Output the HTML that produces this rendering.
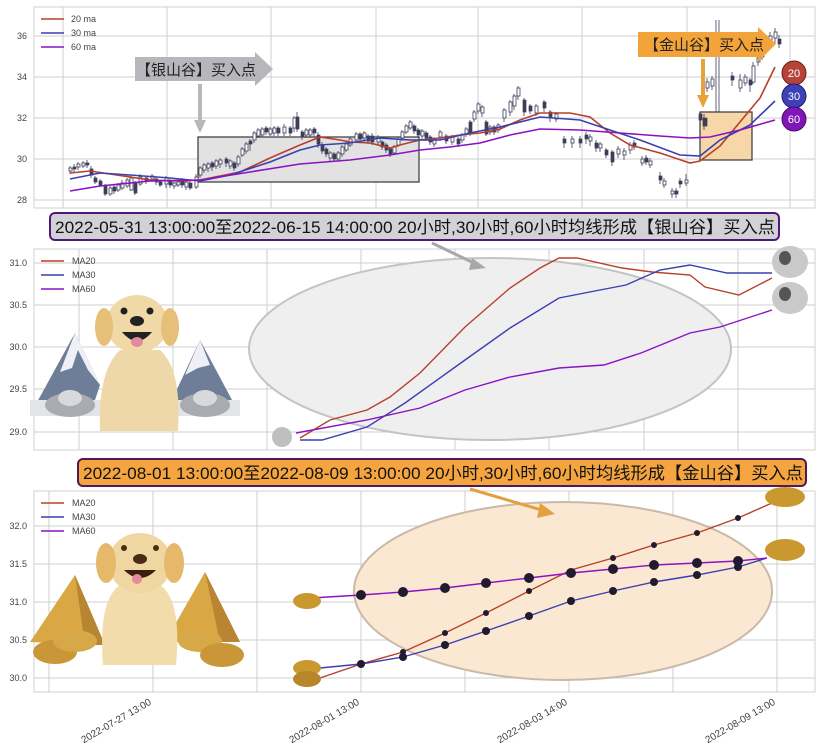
<!DOCTYPE html>
<html><head><meta charset="utf-8"><style>
html,body{margin:0;padding:0;background:#fff;}
svg{display:block;font-family:"Liberation Sans","Noto Sans CJK SC",sans-serif;}
.g{stroke:#cfcfcf;stroke-width:1;}
.t{font-size:9px;fill:#444;}
.f{fill:#3c3e58;stroke:#3c3e58;stroke-width:0.7;}
.h{fill:#fff;stroke:#3c3e58;stroke-width:0.8;}
.w{stroke:#3c3e58;stroke-width:0.8;}
</style></head><body>
<svg width="822" height="754" viewBox="0 0 822 754" xmlns="http://www.w3.org/2000/svg">
<rect width="822" height="754" fill="#fff"/>
<rect x="34" y="7" width="781" height="201" fill="#fff" stroke="#d0d0d0"/>
<g class="g">
<line x1="34" y1="36" x2="815" y2="36"/><line x1="34" y1="77" x2="815" y2="77"/><line x1="34" y1="118" x2="815" y2="118"/><line x1="34" y1="159" x2="815" y2="159"/><line x1="34" y1="200" x2="815" y2="200"/>
<line x1="63" y1="7" x2="63" y2="208"/><line x1="167" y1="7" x2="167" y2="208"/><line x1="271" y1="7" x2="271" y2="208"/><line x1="376" y1="7" x2="376" y2="208"/><line x1="478" y1="7" x2="478" y2="208"/><line x1="582" y1="7" x2="582" y2="208"/><line x1="687" y1="7" x2="687" y2="208"/><line x1="790" y1="7" x2="790" y2="208"/>
</g>
<g class="t" text-anchor="end"><text x="27" y="39">36</text><text x="27" y="80">34</text><text x="27" y="121">32</text><text x="27" y="162">30</text><text x="27" y="203">28</text></g>
<rect x="198" y="137" width="221" height="45" fill="#e2e2e2" stroke="#444" stroke-width="1.3"/>
<rect x="700" y="112" width="52" height="48" fill="#f7d7a8" stroke="#444" stroke-width="1.3"/>
<path class="w" d="M70 166V174M74 164V172M78 162V170M83 161V168M87 160V168M91 166V178M95 176V184M100 179V187M105 184V196M110 186V196M114 185V194M118 183V192M122 180V190M127 178V188M131 176V191M135 181V195M140 174V186M146 176V184M152 174V182M156 177V185M160 180V187M166 176V188M170 179V188M174 181V189M178 180V187M182 178V188M186 180V190M190 181V190M196 174V189M200 166V178M204 163V173M208 162V172M212 161V171M216 159V169M220 158V168M226 157V167M230 159V169M234 161V171M238 155V167M242 147V157M246 142V154M250 139V151M254 131V143M258 128V138M262 127V137M266 126V135M270 127V136M274 126V136M278 126V136M284 124V136M290 126V136M294 116V132M297 112V132M302 130V140M306 128V138M310 128V138M314 127V137M318 132V148M322 142V154M326 147V157M330 151V161M334 152V162M338 151V161M342 145V157M346 142V152M350 137V147M356 132V142M360 132V142M364 131V141M368 134V144M372 133V145M378 135V145M382 140V150M386 143V153M390 147V157M394 145V155M398 137V147M402 130V141M406 124V134M410 120V130M414 124V134M418 128V138M422 129V139M426 131V141M430 135V145M434 137V147M440 130V140M446 134V144M452 135V145M458 137V147M462 133V143M466 127V137M470 120V136M474 110V122M478 102V114M482 105V117M486 120V136M490 125V135M494 125V135M498 123V133M504 108V122M510 100V116M514 94V110M518 86V100M524 98V116M530 104V114M536 104V116M544 100V112M550 110V122M556 112V122M564 136V148M572 136V148M580 136V148M586 132V144M590 134V146M596 140V152M600 142V152M606 148V158M612 150V166M618 146V158M624 148V160M630 142V154M634 140V150M642 156V166M646 155V165M650 158V168M660 172V184M664 178V188M672 188V198M676 188V198M680 178V188M686 174V186M700 112V124M704 114V130M707 78V92M712 76V90M716 20V112M719 20V112M732 72V86M740 74V92M745 74V86M750 78V92M753 62V84M758 54V66M762 50V60M770 32V48M775 28V44M779 35V48"/>
<g>
<rect class="h" x="69" y="168" width="3" height="3"/><rect class="f" x="73" y="167" width="3" height="2"/><rect class="h" x="77" y="164" width="3" height="3"/><rect class="h" x="82" y="163" width="3" height="3"/><rect class="f" x="86" y="163" width="3" height="2"/><rect class="f" x="90" y="169" width="3" height="6"/><rect class="f" x="94" y="178" width="3" height="4"/><rect class="f" x="99" y="181" width="3" height="4"/><rect class="f" x="104" y="186" width="3" height="8"/><rect class="h" x="109" y="188" width="3" height="6"/><rect class="f" x="113" y="187" width="3" height="4"/><rect class="h" x="117" y="185" width="3" height="5"/><rect class="h" x="121" y="183" width="3" height="5"/><rect class="h" x="126" y="180" width="3" height="6"/><rect class="h" x="130" y="178" width="3" height="12"/><rect class="f" x="134" y="183" width="3" height="10"/><rect class="h" x="139" y="177" width="3" height="7"/><rect class="f" x="145" y="178" width="3" height="3"/><rect class="h" x="151" y="176" width="3" height="3"/><rect class="f" x="155" y="179" width="3" height="3"/><rect class="f" x="159" y="182" width="3" height="3"/><rect class="h" x="165" y="178" width="3" height="6"/><rect class="f" x="169" y="181" width="3" height="4"/><rect class="h" x="173" y="183" width="3" height="3"/><rect class="h" x="177" y="182" width="3" height="3"/><rect class="f" x="181" y="180" width="3" height="5"/><rect class="h" x="185" y="182" width="3" height="5"/><rect class="f" x="189" y="183" width="3" height="5"/><rect class="h" x="195" y="177" width="3" height="10"/><rect class="h" x="199" y="168" width="3" height="7"/><rect class="h" x="203" y="165" width="3" height="5"/><rect class="h" x="207" y="164" width="3" height="4"/><rect class="f" x="211" y="163" width="3" height="4"/><rect class="h" x="215" y="161" width="3" height="5"/><rect class="h" x="219" y="160" width="3" height="4"/><rect class="f" x="225" y="159" width="3" height="4"/><rect class="h" x="229" y="161" width="3" height="5"/><rect class="f" x="233" y="163" width="3" height="5"/><rect class="h" x="237" y="157" width="3" height="7"/><rect class="h" x="241" y="149" width="3" height="6"/><rect class="h" x="245" y="144" width="3" height="7"/><rect class="f" x="249" y="141" width="3" height="3"/><rect class="h" x="253" y="133" width="3" height="7"/><rect class="h" x="257" y="130" width="3" height="6"/><rect class="h" x="261" y="129" width="3" height="6"/><rect class="f" x="265" y="128" width="3" height="4"/><rect class="h" x="269" y="129" width="3" height="5"/><rect class="h" x="273" y="128" width="3" height="5"/><rect class="f" x="277" y="128" width="3" height="5"/><rect class="h" x="283" y="127" width="3" height="6"/><rect class="f" x="289" y="128" width="3" height="5"/><rect class="h" x="293" y="118" width="3" height="10"/><rect class="f" x="296" y="117" width="3" height="12"/><rect class="f" x="301" y="132" width="3" height="5"/><rect class="h" x="305" y="130" width="3" height="5"/><rect class="h" x="309" y="130" width="3" height="5"/><rect class="f" x="313" y="129" width="3" height="4"/><rect class="f" x="317" y="135" width="3" height="9"/><rect class="f" x="321" y="145" width="3" height="6"/><rect class="f" x="325" y="149" width="3" height="5"/><rect class="h" x="329" y="153" width="3" height="5"/><rect class="f" x="333" y="154" width="3" height="5"/><rect class="h" x="337" y="153" width="3" height="6"/><rect class="h" x="341" y="147" width="3" height="7"/><rect class="h" x="345" y="144" width="3" height="6"/><rect class="h" x="349" y="139" width="3" height="6"/><rect class="h" x="355" y="134" width="3" height="6"/><rect class="f" x="359" y="134" width="3" height="5"/><rect class="h" x="363" y="133" width="3" height="5"/><rect class="f" x="367" y="136" width="3" height="5"/><rect class="f" x="371" y="136" width="3" height="6"/><rect class="h" x="377" y="137" width="3" height="5"/><rect class="f" x="381" y="142" width="3" height="5"/><rect class="f" x="385" y="145" width="3" height="5"/><rect class="f" x="389" y="149" width="3" height="5"/><rect class="h" x="393" y="147" width="3" height="6"/><rect class="h" x="397" y="139" width="3" height="6"/><rect class="h" x="401" y="132" width="3" height="6"/><rect class="h" x="405" y="126" width="3" height="6"/><rect class="h" x="409" y="122" width="3" height="6"/><rect class="f" x="413" y="126" width="3" height="5"/><rect class="f" x="417" y="130" width="3" height="5"/><rect class="h" x="421" y="131" width="3" height="5"/><rect class="f" x="425" y="133" width="3" height="5"/><rect class="f" x="429" y="137" width="3" height="5"/><rect class="h" x="433" y="139" width="3" height="5"/><rect class="h" x="439" y="132" width="3" height="5"/><rect class="f" x="445" y="136" width="3" height="5"/><rect class="h" x="451" y="137" width="3" height="5"/><rect class="f" x="457" y="139" width="3" height="5"/><rect class="h" x="461" y="135" width="3" height="5"/><rect class="h" x="465" y="129" width="3" height="5"/><rect class="f" x="469" y="122" width="3" height="12"/><rect class="h" x="473" y="112" width="3" height="7"/><rect class="h" x="477" y="104" width="3" height="7"/><rect class="h" x="481" y="107" width="3" height="6"/><rect class="f" x="485" y="122" width="3" height="12"/><rect class="h" x="489" y="127" width="3" height="5"/><rect class="f" x="493" y="127" width="3" height="5"/><rect class="h" x="497" y="125" width="3" height="5"/><rect class="h" x="503" y="110" width="3" height="8"/><rect class="h" x="509" y="102" width="3" height="10"/><rect class="h" x="513" y="96" width="3" height="10"/><rect class="h" x="517" y="88" width="3" height="8"/><rect class="f" x="523" y="100" width="3" height="12"/><rect class="f" x="529" y="106" width="3" height="5"/><rect class="h" x="535" y="106" width="3" height="7"/><rect class="f" x="543" y="102" width="3" height="6"/><rect class="f" x="549" y="112" width="3" height="6"/><rect class="h" x="555" y="114" width="3" height="5"/><rect class="f" x="563" y="139" width="3" height="4"/><rect class="h" x="571" y="139" width="3" height="4"/><rect class="f" x="579" y="139" width="3" height="4"/><rect class="f" x="585" y="135" width="3" height="4"/><rect class="h" x="589" y="137" width="3" height="4"/><rect class="f" x="595" y="143" width="3" height="5"/><rect class="h" x="599" y="144" width="3" height="4"/><rect class="f" x="605" y="150" width="3" height="5"/><rect class="f" x="611" y="152" width="3" height="10"/><rect class="h" x="617" y="149" width="3" height="5"/><rect class="h" x="623" y="151" width="3" height="4"/><rect class="h" x="629" y="145" width="3" height="5"/><rect class="f" x="633" y="143" width="3" height="4"/><rect class="h" x="641" y="159" width="3" height="4"/><rect class="f" x="645" y="158" width="3" height="4"/><rect class="h" x="649" y="161" width="3" height="4"/><rect class="f" x="659" y="176" width="3" height="4"/><rect class="h" x="663" y="181" width="3" height="4"/><rect class="h" x="671" y="191" width="3" height="3"/><rect class="f" x="675" y="191" width="3" height="3"/><rect class="f" x="679" y="181" width="3" height="3"/><rect class="h" x="685" y="180" width="3" height="3"/><rect class="f" x="699" y="114" width="3" height="6"/><rect class="f" x="703" y="118" width="4" height="8"/><rect class="h" x="706" y="82" width="3" height="6"/><rect class="h" x="711" y="79" width="3" height="7"/><rect class="f" x="731" y="76" width="3" height="4"/><rect class="h" x="739" y="80" width="3" height="8"/><rect class="h" x="744" y="77" width="3" height="6"/><rect class="f" x="749" y="80" width="3" height="5"/><rect class="h" x="752" y="66" width="3" height="16"/><rect class="h" x="757" y="58" width="3" height="4"/><rect class="f" x="761" y="54" width="3" height="3"/><rect class="h" x="769" y="36" width="3" height="6"/><rect class="h" x="774" y="32" width="3" height="6"/><rect class="f" x="778" y="39" width="3" height="5"/>
</g>
<polyline fill="none" stroke="#b8402a" stroke-width="1.6" points="70,173 90,171 110,174 150,180 180,181 200,180 240,172 270,158 300,145 320,137 340,140 350,142 370,143 390,148 400,145 420,140 440,138 460,135 480,133 500,129 520,120 540,113 570,113 590,117 610,133 630,145 660,153 690,163 700,161 720,146 740,122 760,98 775,67"/>
<polyline fill="none" stroke="#3b3fb0" stroke-width="1.6" points="70,179 100,173 130,175 170,178 200,181 230,175 270,162 300,150 320,145 350,143 380,138 410,140 440,140 470,133 500,127 540,117 580,120 610,130 640,140 680,155 700,156 720,140 750,125 775,101"/>
<polyline fill="none" stroke="#8a12c4" stroke-width="1.6" points="70,191 100,186 150,181 200,180 250,172 300,164 350,160 390,155 420,150 450,147 480,143 510,135 540,129 580,130 620,133 660,136 690,138 710,137 740,130 775,120"/>
<line x1="41" y1="19" x2="64" y2="19" stroke="#b8402a" stroke-width="1.6"/><text x="71" y="22" class="t">20 ma</text>
<line x1="41" y1="33" x2="64" y2="33" stroke="#3b3fb0" stroke-width="1.6"/><text x="71" y="36" class="t">30 ma</text>
<line x1="41" y1="47" x2="64" y2="47" stroke="#8a12c4" stroke-width="1.6"/><text x="71" y="50" class="t">60 ma</text>
<polygon points="135,57 255,57 255,52 273,69 255,86 255,81 135,81" fill="#b7b7bb"/>
<text x="196" y="75" font-size="15" text-anchor="middle" fill="#222">【银山谷】买入点</text>
<rect x="198" y="84" width="4" height="38" fill="#b7b7bb"/><polygon points="194,120 206,120 200,133" fill="#b7b7bb"/>
<polygon points="638,32 758,32 758,27 776,44 758,62 758,57 638,57" fill="#f2a33a"/>
<text x="704" y="50" font-size="15" text-anchor="middle" fill="#222">【金山谷】买入点</text>
<rect x="701" y="59" width="4" height="38" fill="#e8a23a"/><polygon points="697,95 709,95 703,108" fill="#e8a23a"/>
<circle cx="794" cy="73" r="12" fill="#b5433a" stroke="#6e1f16"/><text x="794" y="77" font-size="11" fill="#fff" text-anchor="middle">20</text>
<circle cx="794" cy="96" r="12" fill="#3d41b5" stroke="#1c1f70"/><text x="794" y="100" font-size="11" fill="#fff" text-anchor="middle">30</text>
<circle cx="794" cy="119" r="12" fill="#8016b8" stroke="#4a0a70"/><text x="794" y="123" font-size="11" fill="#fff" text-anchor="middle">60</text>

<rect x="34" y="249" width="781" height="201" fill="#fff" stroke="#d0d0d0"/>
<g class="g">
<line x1="34" y1="263" x2="815" y2="263"/><line x1="34" y1="305" x2="815" y2="305"/><line x1="34" y1="347" x2="815" y2="347"/><line x1="34" y1="389" x2="815" y2="389"/><line x1="34" y1="432" x2="815" y2="432"/>
<line x1="79" y1="249" x2="79" y2="450"/><line x1="173" y1="249" x2="173" y2="450"/><line x1="267" y1="249" x2="267" y2="450"/><line x1="361" y1="249" x2="361" y2="450"/><line x1="455" y1="249" x2="455" y2="450"/><line x1="549" y1="249" x2="549" y2="450"/><line x1="644" y1="249" x2="644" y2="450"/><line x1="738" y1="249" x2="738" y2="450"/>
</g>
<g class="t" text-anchor="end"><text x="27" y="266">31.0</text><text x="27" y="308">30.5</text><text x="27" y="350">30.0</text><text x="27" y="392">29.5</text><text x="27" y="435">29.0</text></g>
<ellipse cx="490" cy="349" rx="241" ry="91" fill="#efefef" stroke="#c4c4c4" stroke-width="2"/>
<polyline fill="none" stroke="#b8402a" stroke-width="1.4" points="300,438 330,420 367,410 390,397 420,373 465,327 510,288 540,268 559,258 577,258 622,268 652,272 690,275 705,287 739,295 772,278"/>
<polyline fill="none" stroke="#3b3fb0" stroke-width="1.4" points="300,440 322,440 367,427 405,403 465,360 510,328 559,298 600,290 626,285 660,270 690,265 727,273 772,273"/>
<polyline fill="none" stroke="#8a12c4" stroke-width="1.4" points="296,433 367,420 420,408 465,390 510,377 559,368 604,365 641,353 690,333 720,327 772,310"/>
<line x1="41" y1="261" x2="64" y2="261" stroke="#b8402a" stroke-width="1.4"/><text x="72" y="264" class="t">MA20</text>
<line x1="41" y1="275" x2="64" y2="275" stroke="#3b3fb0" stroke-width="1.4"/><text x="72" y="278" class="t">MA30</text>
<line x1="41" y1="289" x2="64" y2="289" stroke="#8a12c4" stroke-width="1.4"/><text x="72" y="292" class="t">MA60</text>
<line x1="432" y1="243" x2="478" y2="265" stroke="#a8a8a8" stroke-width="3"/><polygon points="472,258 486,268 469,270" fill="#a8a8a8"/>
<polygon points="30,415 75,333 100,385 90,415" fill="#6e7d98"/><polygon points="75,333 60,372 72,368 78,350 88,370 100,385" fill="#eef0f5"/>
<polygon points="165,415 200,340 240,415" fill="#6e7d98"/><polygon points="200,340 185,375 198,368 210,365" fill="#eef0f5"/>
<rect x="30" y="400" width="210" height="16" fill="#e3e4e8"/>
<ellipse cx="70" cy="405" rx="25" ry="12" fill="#a9abb0"/><ellipse cx="70" cy="398" rx="12" ry="8" fill="#d8d9dc"/>
<ellipse cx="205" cy="405" rx="25" ry="12" fill="#a9abb0"/><ellipse cx="205" cy="398" rx="12" ry="8" fill="#d8d9dc"/>
<path d="M100,431 Q98,370 120,350 L160,350 Q182,370 178,431 Z" fill="#eed8a9"/>
<ellipse cx="137" cy="324" rx="31" ry="29" fill="#f0d9a6"/>
<ellipse cx="104" cy="327" rx="9" ry="19" fill="#e6bf78"/><ellipse cx="170" cy="327" rx="9" ry="19" fill="#e6bf78"/>
<circle cx="124" cy="311" r="3.5" fill="#222"/><circle cx="150" cy="311" r="3.5" fill="#222"/>
<ellipse cx="137" cy="321" rx="7" ry="5" fill="#222"/><path d="M122,332 Q137,350 152,332 Z" fill="#222"/><ellipse cx="137" cy="342" rx="6" ry="5" fill="#e48aa0"/>
<ellipse cx="282" cy="437" rx="10" ry="10" fill="#bfbfbf"/><ellipse cx="790" cy="262" rx="18" ry="16" fill="#c9c9c9"/><ellipse cx="790" cy="298" rx="18" ry="16" fill="#c9c9c9"/>
<ellipse cx="785" cy="258" rx="6" ry="7" fill="#555"/><ellipse cx="785" cy="294" rx="6" ry="7" fill="#555"/>
<rect x="50" y="213" width="729" height="27" rx="5" fill="#d2d2d6" stroke="#4d1a7c" stroke-width="2"/>
<text x="55" y="233" font-size="17" textLength="720" lengthAdjust="spacingAndGlyphs" fill="#111">2022-05-31 13:00:00至2022-06-15 14:00:00 20小时,30小时,60小时均线形成【银山谷】买入点</text>

<rect x="34" y="491" width="781" height="201" fill="#fff" stroke="#d0d0d0"/>
<g class="g">
<line x1="34" y1="526" x2="815" y2="526"/><line x1="34" y1="564" x2="815" y2="564"/><line x1="34" y1="602" x2="815" y2="602"/><line x1="34" y1="640" x2="815" y2="640"/><line x1="34" y1="678" x2="815" y2="678"/>
<line x1="49" y1="491" x2="49" y2="692"/><line x1="153" y1="491" x2="153" y2="692"/><line x1="257" y1="491" x2="257" y2="692"/><line x1="361" y1="491" x2="361" y2="692"/><line x1="465" y1="491" x2="465" y2="692"/><line x1="569" y1="491" x2="569" y2="692"/><line x1="673" y1="491" x2="673" y2="692"/><line x1="777" y1="491" x2="777" y2="692"/>
</g>
<g class="t" text-anchor="end"><text x="27" y="529">32.0</text><text x="27" y="567">31.5</text><text x="27" y="605">31.0</text><text x="27" y="643">30.5</text><text x="27" y="681">30.0</text></g>
<ellipse cx="563" cy="591" rx="209" ry="89" fill="#fbe8d2" stroke="#c9baa8" stroke-width="2"/>
<polyline fill="none" stroke="#b8402a" stroke-width="1.4" points="320,678 361,664 403,652 445,633 486,613 529,591 571,570 613,558 654,545 697,533 738,518 772,503"/>
<polyline fill="none" stroke="#3b3fb0" stroke-width="1.4" points="320,668 361,664 403,657 445,645 486,631 529,616 571,601 613,591 654,582 697,575 738,567 767,558"/>
<polyline fill="none" stroke="#8a12c4" stroke-width="1.4" points="311,598 361,595 403,592 445,588 486,583 529,578 571,573 613,569 654,565 697,563 738,561 767,558"/>
<g fill="#221a2e">
<circle cx="361" cy="595" r="5"/><circle cx="403" cy="592" r="5"/><circle cx="445" cy="588" r="5"/><circle cx="486" cy="583" r="5"/><circle cx="529" cy="578" r="5"/><circle cx="571" cy="573" r="5"/><circle cx="613" cy="569" r="5"/><circle cx="654" cy="565" r="5"/><circle cx="697" cy="563" r="5"/><circle cx="738" cy="561" r="5"/>
<circle cx="361" cy="664" r="4"/><circle cx="403" cy="657" r="4"/><circle cx="445" cy="645" r="4"/><circle cx="486" cy="631" r="4"/><circle cx="529" cy="616" r="4"/><circle cx="571" cy="601" r="4"/><circle cx="613" cy="591" r="4"/><circle cx="654" cy="582" r="4"/><circle cx="697" cy="575" r="4"/><circle cx="738" cy="567" r="4"/>
<circle cx="403" cy="652" r="3"/><circle cx="445" cy="633" r="3"/><circle cx="486" cy="613" r="3"/><circle cx="529" cy="591" r="3"/><circle cx="613" cy="558" r="3"/><circle cx="654" cy="545" r="3"/><circle cx="697" cy="533" r="3"/><circle cx="738" cy="518" r="3"/>
</g>
<line x1="41" y1="503" x2="64" y2="503" stroke="#b8402a" stroke-width="1.4"/><text x="72" y="506" class="t">MA20</text>
<line x1="41" y1="517" x2="64" y2="517" stroke="#3b3fb0" stroke-width="1.4"/><text x="72" y="520" class="t">MA30</text>
<line x1="41" y1="531" x2="64" y2="531" stroke="#8a12c4" stroke-width="1.4"/><text x="72" y="534" class="t">MA60</text>
<line x1="470" y1="489" x2="545" y2="511" stroke="#e3a043" stroke-width="3"/><polygon points="540,503 555,514 537,518" fill="#e3a043"/>
<polygon points="30,642 75,575 105,645" fill="#d9a744"/><polygon points="75,575 105,645 85,645" fill="#b88632"/>
<polygon points="165,642 205,572 240,642" fill="#d9a744"/><polygon points="205,572 240,642 220,642" fill="#b88632"/>
<ellipse cx="55" cy="652" rx="22" ry="12" fill="#c99638"/><ellipse cx="75" cy="641" rx="22" ry="11" fill="#d7a848"/>
<ellipse cx="200" cy="641" rx="22" ry="11" fill="#d7a848"/><ellipse cx="222" cy="655" rx="22" ry="12" fill="#c99638"/>
<path d="M103,665 Q98,600 120,585 L160,585 Q182,600 176,665 Z" fill="#f2dcab"/>
<ellipse cx="140" cy="563" rx="32" ry="30" fill="#f0d6a0"/>
<ellipse cx="106" cy="563" rx="10" ry="20" fill="#e6b86a"/><ellipse cx="174" cy="563" rx="10" ry="20" fill="#e6b86a"/>
<circle cx="124" cy="548" r="3" fill="#4a2b15"/><circle cx="156" cy="548" r="3" fill="#4a2b15"/>
<ellipse cx="140" cy="559" rx="7" ry="5" fill="#4a2b15"/><path d="M124,570 Q140,586 156,570 Z" fill="#3a2010"/><ellipse cx="137" cy="579" rx="5" ry="5" fill="#e48aa0"/>
<ellipse cx="307" cy="601" rx="14" ry="8" fill="#c9982f"/><ellipse cx="307" cy="668" rx="14" ry="8" fill="#c9982f"/><ellipse cx="307" cy="679" rx="14" ry="8" fill="#b8862a"/>
<ellipse cx="785" cy="497" rx="20" ry="10" fill="#c9982f"/><ellipse cx="785" cy="550" rx="20" ry="11" fill="#c9982f"/>
<rect x="78" y="459" width="728" height="27" rx="5" fill="#f4a53f" stroke="#4d1a5c" stroke-width="2"/>
<text x="83" y="479" font-size="17" textLength="720" lengthAdjust="spacingAndGlyphs" fill="#111">2022-08-01 13:00:00至2022-08-09 13:00:00 20小时,30小时,60小时均线形成【金山谷】买入点</text>
<g font-size="10" fill="#444" text-anchor="end">
<text transform="translate(152,704) rotate(-30)">2022-07-27 13:00</text>
<text transform="translate(360,704) rotate(-30)">2022-08-01 13:00</text>
<text transform="translate(568,704) rotate(-30)">2022-08-03 14:00</text>
<text transform="translate(776,704) rotate(-30)">2022-08-09 13:00</text>
</g>
</svg>
</body></html>
